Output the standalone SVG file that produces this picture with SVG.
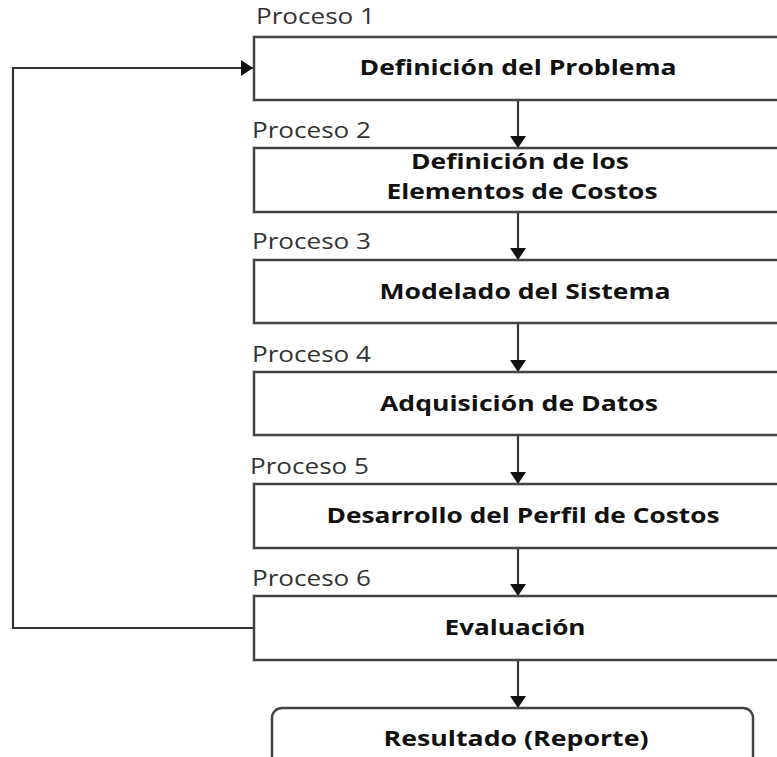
<svg xmlns="http://www.w3.org/2000/svg" width="777" height="757" viewBox="0 0 777 757">
<defs>
<style>
.box{fill:#fff;stroke:#444;stroke-width:2.5}
.lbl{font-family:"Open Sans","Liberation Sans",sans-serif;font-size:21px;fill:#333}
.t{font-family:"Open Sans","Liberation Sans",sans-serif;font-size:21px;font-weight:bold;fill:#111;text-anchor:middle}
.ln{fill:none;stroke:#333;stroke-width:2.2}
</style>
<marker id="ah" viewBox="0 0 12 16" refX="12" refY="8" markerWidth="12" markerHeight="16" markerUnits="userSpaceOnUse" orient="auto">
<path d="M0,0 L12,8 L0,16 Z" fill="#111"/>
</marker>
</defs>
<rect width="777" height="757" fill="#fff"/>
<g id="connectors">
<line class="ln" x1="518" y1="100" x2="518" y2="148" marker-end="url(#ah)"/>
<line class="ln" x1="518" y1="212" x2="518" y2="260" marker-end="url(#ah)"/>
<line class="ln" x1="518" y1="323" x2="518" y2="372" marker-end="url(#ah)"/>
<line class="ln" x1="518" y1="435" x2="518" y2="484" marker-end="url(#ah)"/>
<line class="ln" x1="518" y1="548" x2="518" y2="596" marker-end="url(#ah)"/>
<line class="ln" x1="518" y1="660" x2="518" y2="708" marker-end="url(#ah)"/>
<polyline class="ln" points="254,628 13,628 13,68 253,68" marker-end="url(#ah)"/>
</g>
<g id="p1">
<text class="lbl" x="256" y="24" textLength="119" lengthAdjust="spacingAndGlyphs">Proceso 1</text>
<rect class="box" x="254" y="37" width="540" height="63"/>
<text class="t" x="518" y="75" textLength="317" lengthAdjust="spacingAndGlyphs">Definición del Problema</text>
</g>
<g id="p2">
<text class="lbl" x="252" y="138" textLength="119" lengthAdjust="spacingAndGlyphs">Proceso 2</text>
<rect class="box" x="254" y="148" width="540" height="64"/>
<text class="t" x="520" y="169" textLength="218" lengthAdjust="spacingAndGlyphs">Definición de los</text>
<text class="t" x="522" y="199" textLength="271" lengthAdjust="spacingAndGlyphs">Elementos de Costos</text>
</g>
<g id="p3">
<text class="lbl" x="252" y="249" textLength="119" lengthAdjust="spacingAndGlyphs">Proceso 3</text>
<rect class="box" x="254" y="260" width="540" height="63"/>
<text class="t" x="525" y="299" textLength="291" lengthAdjust="spacingAndGlyphs">Modelado del Sistema</text>
</g>
<g id="p4">
<text class="lbl" x="252" y="362" textLength="119" lengthAdjust="spacingAndGlyphs">Proceso 4</text>
<rect class="box" x="254" y="372" width="540" height="63"/>
<text class="t" x="519" y="411" textLength="278" lengthAdjust="spacingAndGlyphs">Adquisición de Datos</text>
</g>
<g id="p5">
<text class="lbl" x="250" y="474" textLength="119" lengthAdjust="spacingAndGlyphs">Proceso 5</text>
<rect class="box" x="254" y="484" width="540" height="64"/>
<text class="t" x="523" y="523" textLength="393" lengthAdjust="spacingAndGlyphs">Desarrollo del Perfil de Costos</text>
</g>
<g id="p6">
<text class="lbl" x="252" y="586" textLength="119" lengthAdjust="spacingAndGlyphs">Proceso 6</text>
<rect class="box" x="254" y="596" width="540" height="64"/>
<text class="t" x="515" y="635" textLength="141" lengthAdjust="spacingAndGlyphs">Evaluación</text>
</g>
<g id="result">
<rect class="box" x="272" y="708" width="481" height="70" rx="10" ry="10"/>
<text class="t" x="516" y="746" textLength="265" lengthAdjust="spacingAndGlyphs">Resultado (Reporte)</text>
</g>
</svg>
